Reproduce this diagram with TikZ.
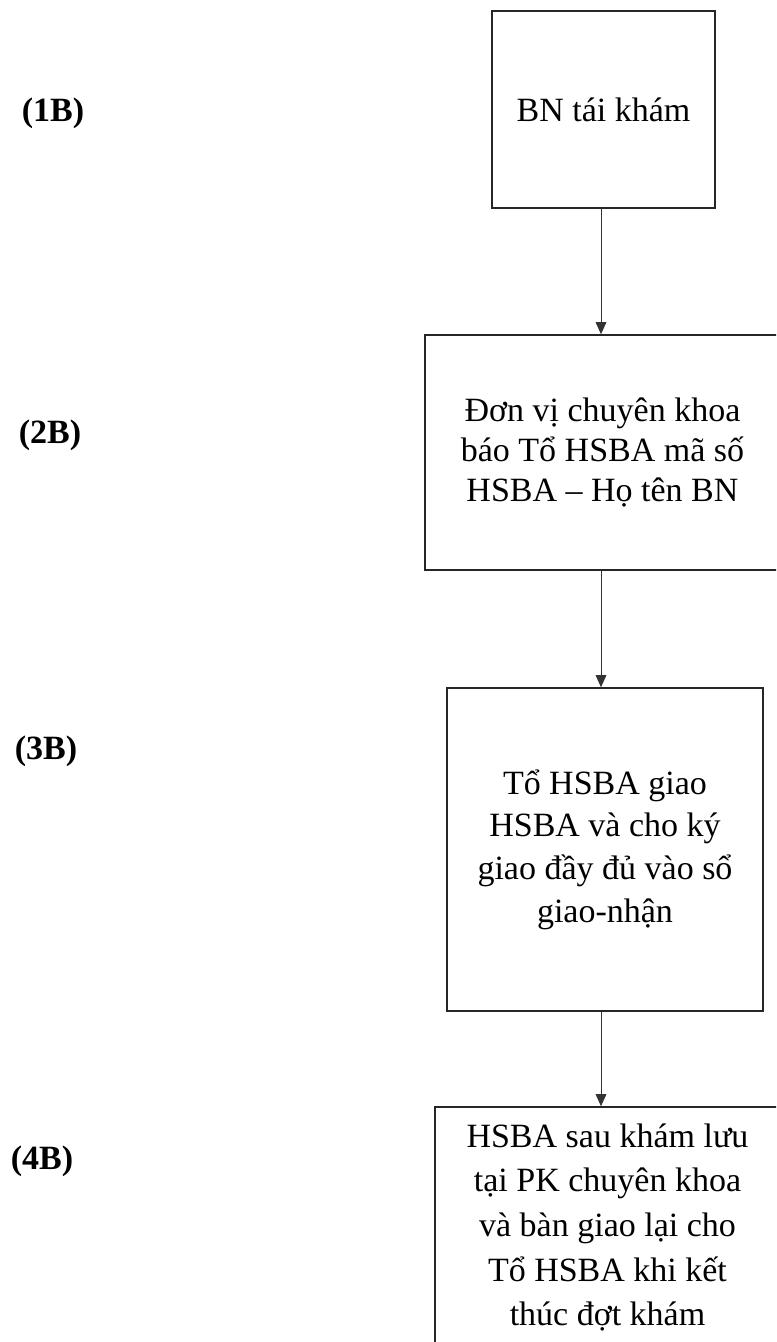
\documentclass[tikz,border=0pt]{standalone}
\usepackage{fontspec}
\setmainfont{Liberation Serif}
\usetikzlibrary{arrows.meta}

\tikzset{
	stepbox/.style={draw=black!85, line width=1.2pt, align=center, inner sep=0pt,
		font=\fontsize{25.5}{32}\selectfont},
	tag/.style={font=\fontsize{25.5}{30}\selectfont\bfseries},
	flow/.style={line width=0.7pt, black!80, -{Triangle[length=9pt,width=8pt]}}
}

\begin{document}
\begin{tikzpicture}[x=0.75pt, y=-0.75pt]
		\clip (0,0) rectangle (776,1342);
		\coordinate (axis) at (601,0);
		
		\node[stepbox, minimum width=167.25pt, minimum height=147.75pt] (1) at (603.5,109.5) {BN tái khám};
		\node[tag] (T1) at (53,113) {(1B)};
		
		\node[stepbox, minimum width=266.25pt, minimum height=176.25pt,
			font=\fontsize{25.5}{30}\selectfont] (2) at (602.5,452.5)
			{Đơn vị chuyên khoa\\báo Tổ HSBA mã số\\HSBA -- Họ tên BN};
		\node[tag] (T2) at (50,435) {(2B)};
		
		\node[stepbox, minimum width=237pt, minimum height=242.25pt] (3) at (605,849.5)
			{Tổ HSBA giao\\HSBA và cho ký\\giao đầy đủ vào sổ\\giao-nhận};
		\node[tag] (T3) at (46,751) {(3B)};
		
		\node[stepbox, minimum width=258.75pt, minimum height=180.75pt,
			font=\fontsize{25.5}{33.5}\selectfont] (4) at (607.5,1227.5)
			{HSBA sau khám lưu\\tại PK chuyên khoa\\và bàn giao lại cho\\Tổ HSBA khi kết\\thúc đợt khám};
		\node[tag] (T4) at (42,1161) {(4B)};
		
		\path []
		(1.south -| axis) edge[flow] (2.north -| axis)
		(2.south -| axis) edge[flow] (3.north -| axis)
		(3.south -| axis) edge[flow] (4.north -| axis);
	\end{tikzpicture}
\end{document}
